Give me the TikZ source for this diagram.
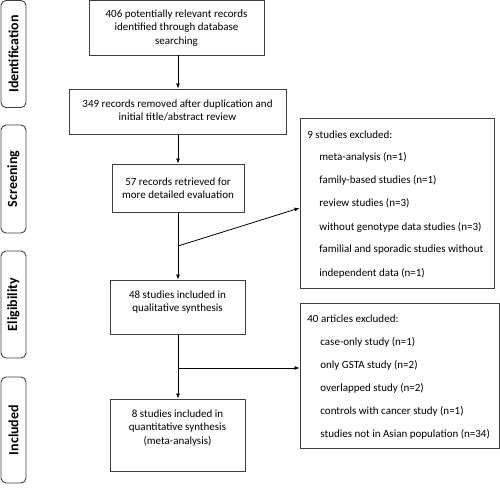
\documentclass[tikz,border=0pt]{standalone}
\usepackage{fontspec}
\setmainfont{Carlito}
\usetikzlibrary{arrows.meta}
\begin{document}
\begin{tikzpicture}[x=1pt,y=-1pt,
  line width=0.8pt,
  every node/.style={font=\fontsize{11}{13.4}\selectfont},
  box/.style={draw=black!75, line width=0.9pt, inner sep=0pt},
  side/.style={draw=black!75, line width=0.9pt, rounded corners=5pt, inner sep=0pt, minimum width=25pt},
  sidetxt/.style={rotate=90, font=\fontsize{14}{16}\selectfont\bfseries},
  txt/.style={align=center, inner sep=0pt},
  item/.style={anchor=west, inner sep=0pt},
  arr/.style={draw=black, line width=0.8pt, -{Latex[length=5pt,width=4pt]}}
]
\useasboundingbox (0,0) rectangle (500,496);
% side labels
\node[side, minimum height=107pt] (s1) at (13.5,54) {};
\node[sidetxt] (s1t) at (s1.center) {Identification};
\node[side, minimum height=108pt] (s2) at (13.5,179) {};
\node[sidetxt] (s2t) at (s2.center) {Screening};
\node[side, minimum height=107pt] (s3) at (13.5,304.5) {};
\node[sidetxt] (s3t) at (s3.center) {Eligibility};
\node[side, minimum height=106pt] (s4) at (13.5,430) {};
\node[sidetxt] (s4t) at (s4.center) {Included};
% main boxes
\node[box, minimum width=175pt, minimum height=55pt] (b1) at (176.5,27.5) {};
\node[txt] (b1t) at (176.5,28) {406 potentially relevant records\\identified through database\\searching};
\node[box, minimum width=217pt, minimum height=45pt] (b2) at (177.5,111.5) {};
\node[txt] (b2t) at (177.5,110.5) {349 records removed after duplication and\\initial title/abstract review};
\node[box, minimum width=132pt, minimum height=48pt] (b3) at (178,188) {};
\node[txt] (b3t) at (178,188.5) {57 records retrieved for\\more detailed evaluation};
\node[box, minimum width=135pt, minimum height=54pt] (b4) at (177.5,307) {};
\node[txt] (b4t) at (177.5,302) {48 studies included in\\qualitative synthesis};
\node[box, minimum width=135pt, minimum height=72pt] (b5) at (177.5,435) {};
\node[txt] (b5t) at (177.5,428) {8 studies included in\\quantitative synthesis\\(meta-analysis)};
% exclusion boxes
\node[box, minimum width=194pt, minimum height=170pt] (e1) at (397,203) {};
\node[item] (e1h) at (307,135) {9 studies excluded:};
\node[item] (e1a) at (319,157.5) {meta-analysis (n=1)};
\node[item] (e1b) at (319,180.5) {family-based studies (n=1)};
\node[item] (e1c) at (319,203.5) {review studies (n=3)};
\node[item] (e1d) at (319,227) {without genotype data studies (n=3)};
\node[item] (e1e) at (319,250) {familial and sporadic studies without};
\node[item] (e1f) at (319,273) {independent data (n=1)};
\node[box, minimum width=199pt, minimum height=145pt] (e2) at (399.5,375.5) {};
\node[item] (e2h) at (307,319) {40 articles excluded:};
\node[item] (e2a) at (320,342) {case-only study (n=1)};
\node[item] (e2b) at (320,365) {only GSTA study (n=2)};
\node[item] (e2c) at (320,388) {overlapped study (n=2)};
\node[item] (e2d) at (320,411.5) {controls with cancer study (n=1)};
\node[item] (e2e) at (320,434.5) {studies not in Asian population (n=34)};
% connectors
\coordinate (j1) at (178,246);
\coordinate (j2) at (178,368);
\draw[arr] (b1.south -| 178,0) -- (b2.north -| 178,0);
\draw[arr] (b2.south -| 178,0) -- (b3.north -| 178,0);
\draw[arr] (b3.south -| 178,0) -- (b4.north -| 178,0);
\draw[arr] (j1) -- (e1.west |- 0,208);
\draw[arr] (b4.south -| 178,0) -- (b5.north -| 178,0);
\draw[arr] (j2) -- (e2.west |- j2);
\end{tikzpicture}
\end{document}
